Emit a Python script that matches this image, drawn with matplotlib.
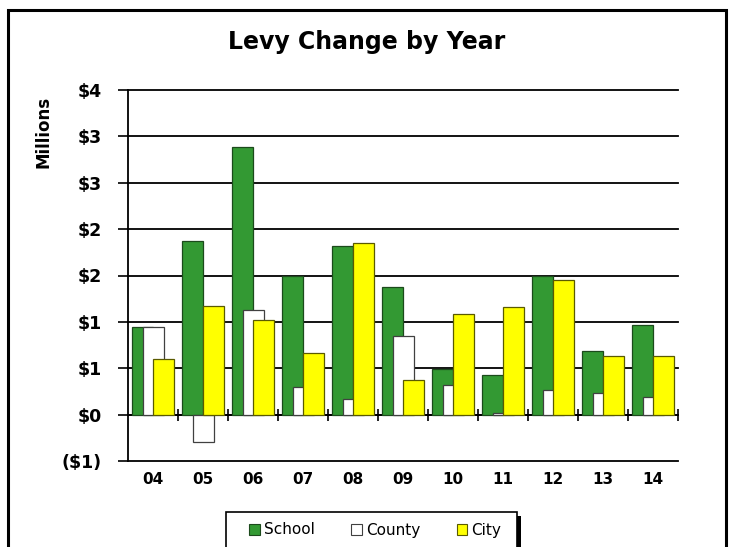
import math
import numpy as np
import matplotlib
matplotlib.use("Agg")
import matplotlib.pyplot as plt
import matplotlib.transforms as mtransforms
from matplotlib.patches import Rectangle, Patch
from matplotlib.ticker import FuncFormatter

plt.rcParams['font.family'] = ['DejaVu Sans']

# ---- data (millions of dollars) ----
years = ['04', '05', '06', '07', '08', '09', '10', '11', '12', '13', '14']
school = [0.94, 1.87, 2.89, 1.50, 1.82, 1.38, 0.49, 0.43, 1.49, 0.69, 0.97]
county = [0.95, -0.30, 1.13, 0.30, 0.17, 0.85, 0.32, 0.02, 0.27, 0.23, 0.19]
city = [0.60, 1.17, 1.02, 0.66, 1.85, 0.37, 1.09, 1.16, 1.45, 0.63, 0.63]
series_names = ['School', 'County', 'City']
y_ticks = [-0.5, 0.0, 0.5, 1.0, 1.5, 2.0, 2.5, 3.0, 3.5]
title = 'Levy Change by Year'
y_title = 'Millions'

W, H = 731, 547
fig = plt.figure(figsize=(W / 100, H / 100), dpi=100)
ax = fig.add_axes([128 / W, 1 - 461 / H, 550 / W, 371 / H])

x = np.arange(len(years))
bw = 0.42
step = 0.21
fills = ['#339933', '#ffffff', '#ffff00']
edges = ['#1c4a1c', '#404040', '#5a5a00']
for k, vals in enumerate([school, county, city]):
    ax.bar(x + (k - 1) * step, vals, bw, color=fills[k], edgecolor=edges[k],
           linewidth=0.9, zorder=3)

ax.set_xlim(-0.5, len(years) - 0.5)
ax.set_ylim(y_ticks[0], y_ticks[-1])
ax.set_yticks(y_ticks)


def money(v, pos):
    n = int(math.floor(abs(v) + 0.5))
    return '(\\$%d)' % n if v < 0 else '\\$%d' % n


ax.yaxis.set_major_formatter(FuncFormatter(money))
ax.yaxis.grid(True, color='black', linewidth=1.3)
ax.set_axisbelow(True)
for gl in ax.get_ygridlines():
    gl.set_clip_on(False)

for s in ['top', 'right']:
    ax.spines[s].set_visible(False)
ax.spines['left'].set_linewidth(1.3)
ax.spines['bottom'].set_position(('data', 0))
ax.spines['bottom'].set_linewidth(1.3)
ax.spines['bottom'].set_zorder(2.6)

ax.set_xticks(np.arange(0.5, len(years), 1.0))
ax.set_xticklabels([])
ax.tick_params(axis='x', direction='inout', length=9, width=1.2)
ax.tick_params(axis='y', direction='out', length=7, width=1.2, pad=12,
               labelsize=12.5)
for lab in ax.get_yticklabels():
    lab.set_fontweight('bold')

trans = mtransforms.blended_transform_factory(ax.transData, ax.transAxes)
for i, yr in enumerate(years):
    ax.text(i, -19 / 371, yr, transform=trans, ha='center', va='center',
            fontsize=11, fontweight='bold')

fig.text(367 / W, 1 - 49 / H, title, ha='center', va='baseline',
         fontsize=17, fontweight='bold')
fig.text(43 / W, 1 - 132 / H, y_title, rotation=90, ha='center', va='center',
         fontsize=12, fontweight='bold')

# outer chart frame
fig.patches.append(Rectangle((8 / W, -0.1), (726 - 8) / W, (1 - 10 / H) + 0.1,
                             transform=fig.transFigure, fill=False,
                             edgecolor='black', linewidth=2.2, zorder=1))
# legend box with shadow
fig.patches.append(Rectangle((230 / W, -0.1), 291 / W, (1 - 516 / H) + 0.1,
                             transform=fig.transFigure, facecolor='black',
                             edgecolor='none', zorder=2))
fig.patches.append(Rectangle((226 / W, -0.1), 291 / W, (1 - 512 / H) + 0.1,
                             transform=fig.transFigure, facecolor='white',
                             edgecolor='black', linewidth=1.2, zorder=3))
handles = [Patch(facecolor=fills[k], edgecolor=edges[k], linewidth=0.8)
           for k in range(3)]
leg = fig.legend(handles, series_names, loc='center',
                 bbox_to_anchor=(375 / W, 1 - 530 / H), ncol=3, frameon=False,
                 handlelength=0.7, handleheight=0.7, handletextpad=0.25,
                 columnspacing=2.4, fontsize=11)
leg.set_zorder(5)

fig.savefig('out.png', dpi=100)
